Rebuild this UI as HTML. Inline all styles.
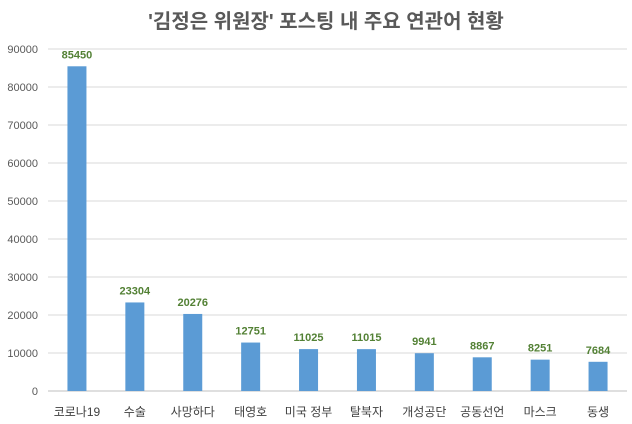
<!DOCTYPE html>
<html><head><meta charset="utf-8"><style>
body{margin:0;background:#fff;}
svg{display:block;font-family:"Liberation Sans","Noto Sans CJK KR",sans-serif;}
</style></head><body>
<svg id="chart" width="632" height="424">
<text x="326" y="28" text-anchor="middle" font-size="20" font-weight="bold" fill="#595959">'김정은 위원장' 포스팅 내 주요 연관어 현황</text>
<g id="grid"></g><g id="bars"></g>
</svg>
<script>
const categories=["코로나19","수술","사망하다","태영호","미국 정부","탈북자","개성공단","공동선언","마스크","동생"];
const values=[85450,23304,20276,12751,11025,11015,9941,8867,8251,7684];
const ticks=[0,10000,20000,30000,40000,50000,60000,70000,80000,90000];
const NS="http://www.w3.org/2000/svg";
const x0=48,x1=627,y0=391,y1=49,maxV=90000;
const y=v=>y0-(v/maxV)*(y0-y1);
const band=(x1-x0)/categories.length;
const xc=i=>x0+band*(i+0.5);
const grid=document.getElementById('grid'),bars=document.getElementById('bars');
function mk(tag,attrs,parent,txt){const e=document.createElementNS(NS,tag);for(const k in attrs)e.setAttribute(k,attrs[k]);if(txt!==undefined)e.textContent=txt;parent.appendChild(e);return e;}
ticks.forEach(t=>{
 const l=mk('line',{x1:x0,x2:x1,y1:y(t),y2:y(t),stroke:t===0?'#bfbfbf':'#d9d9d9','stroke-width':1},grid);
 
 
 const tx=mk('text',{x:38,y:y(t)+4,'text-anchor':'end','font-size':11,fill:'#595959'},grid,String(t));
 
 
});
categories.forEach((c,i)=>{
 const r=mk('rect',{x:xc(i)-9.5,y:y(values[i]),width:19,height:y0-y(values[i]),fill:'#5b9bd5'},bars);
 
 
 const v=mk('text',{x:xc(i),y:y(values[i])-8,'text-anchor':'middle','font-size':11,'font-weight':'bold',fill:'#538135'},bars,String(values[i]));
 
 
 const lb=mk('text',{x:xc(i),y:416,'text-anchor':'middle','font-size':12,fill:'#404040'},bars,c);
 
 
});
</script>
</body></html>
